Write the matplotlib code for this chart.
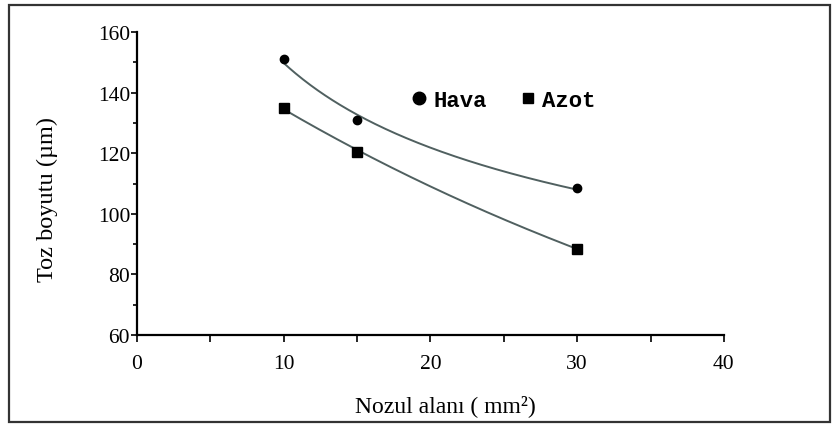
import numpy as np
import matplotlib
matplotlib.use("Agg")
import matplotlib.pyplot as plt
from matplotlib.patches import Rectangle
from matplotlib.lines import Line2D

plt.rcParams['font.family'] = ['Liberation Serif', 'DejaVu Serif']

nozzle_area = [10, 15, 30]
hava = [151, 131, 108.5]
azot = [135, 120.5, 88.5]

fig = plt.figure(figsize=(8.33, 4.27), dpi=100)
fig.patches.append(Rectangle((0.011, 0.01), 0.985, 0.975, transform=fig.transFigure,
                             fill=False, edgecolor='#333333', linewidth=1.6))
ax = fig.add_axes([0.1645, 0.213, 0.7045, 0.7097])

x = np.asarray(nozzle_area, dtype=float)
xs = np.linspace(x.min(), x.max(), 200)

# power trend for air: y = a * x^b
b_h, lna_h = np.polyfit(np.log(x), np.log(hava), 1)
ax.plot(xs, np.exp(lna_h) * xs ** b_h, color='#506060', linewidth=1.4, zorder=2)

# exponential trend for nitrogen: y = a * exp(b x)
b_a, lna_a = np.polyfit(x, np.log(azot), 1)
ax.plot(xs, np.exp(lna_a + b_a * xs), color='#506060', linewidth=1.4, zorder=2)

ax.plot(nozzle_area, hava, linestyle='none', marker='o', markersize=6,
        color='black', zorder=3)
ax.plot(nozzle_area, azot, linestyle='none', marker='s', markersize=6.5,
        color='black', zorder=3)

ax.set_xlim(0, 40)
ax.set_ylim(60, 160)
ax.set_xticks(range(0, 41, 10))
ax.set_xticks(range(5, 40, 10), minor=True)
ax.set_yticks(range(60, 161, 20))
ax.set_yticks(range(70, 160, 20), minor=True)
ax.tick_params(axis='both', which='both', direction='out', length=5, width=1.2,
               labelsize=15.5, colors='black')
ax.tick_params(axis='x', which='major', pad=9)
ax.tick_params(axis='y', which='major', length=4, pad=1)
ax.tick_params(axis='y', which='minor', length=3)
ax.spines['top'].set_visible(False)
ax.spines['right'].set_visible(False)
for s in ('left', 'bottom'):
    ax.spines[s].set_linewidth(1.6)

ax.set_xlabel('Nozul alanı ( mm²)', fontsize=17)
ax.set_ylabel('Toz boyutu (µm)', fontsize=17.5)
ax.xaxis.set_label_coords(0.525, -0.195)
ax.yaxis.set_label_coords(-0.135, 0.449)

handles = [Line2D([], [], linestyle='none', marker='o', markersize=9, color='black'),
           Line2D([], [], linestyle='none', marker='s', markersize=7, color='black')]
ax.legend(handles, ['Hava', 'Azot'], loc='center', bbox_to_anchor=(0.625, 0.775),
          ncol=2, frameon=False, handlelength=0.6,
          handletextpad=0.35, columnspacing=1.55,
          prop={'family': 'Liberation Mono', 'weight': 'bold', 'size': 16})

fig.savefig('out.png', dpi=100)
